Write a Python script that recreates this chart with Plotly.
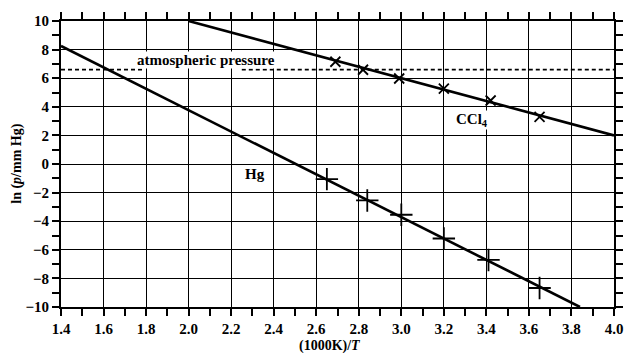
import plotly.graph_objects as go

# ---- data ----
ccl4_x = [2.69, 2.82, 2.99, 3.20, 3.42, 3.65]
ccl4_y = [7.15, 6.59, 5.98, 5.27, 4.44, 3.30]
hg_x = [2.65, 2.84, 3.00, 3.20, 3.41, 3.65]
hg_y = [-1.06, -2.55, -3.55, -5.21, -6.71, -8.67]

ccl4_fit_x = [2.0, 4.0]
ccl4_fit_y = [10.0, 2.0]
hg_fit_x = [1.4, 3.84]
hg_fit_y = [8.25, -10.0]

atm_x = [1.4, 1.79, None, 2.25, 4.0]
atm_y = [6.6, 6.6, None, 6.6, 6.6]

x_range = [1.4, 4.0]
y_range = [-10, 10]

FONT = "Liberation Serif, Times New Roman, serif"

fig = go.Figure()

fig.add_trace(go.Scatter(x=atm_x, y=atm_y, mode="lines",
                         line=dict(color="black", width=1.6, dash="4px,3px"),
                         connectgaps=False, hoverinfo="skip"))
fig.add_trace(go.Scatter(x=ccl4_fit_x, y=ccl4_fit_y, mode="lines",
                         line=dict(color="black", width=2.6)))
fig.add_trace(go.Scatter(x=hg_fit_x, y=hg_fit_y, mode="lines",
                         line=dict(color="black", width=2.6)))
fig.add_trace(go.Scatter(x=ccl4_x, y=ccl4_y, mode="markers",
                         marker=dict(symbol="x-thin", size=10, color="black",
                                     line=dict(width=1.8, color="black"))))
fig.add_trace(go.Scatter(x=hg_x, y=hg_y, mode="markers",
                         marker=dict(symbol="cross-thin", size=16, color="black",
                                     line=dict(width=1.8, color="black"))))

axis_common = dict(
    showline=True, linecolor="black", linewidth=2,
    showgrid=True, gridcolor="black", gridwidth=1.4,
    zeroline=False, ticks="outside", ticklen=7, tickwidth=1.5, tickcolor="black",
    mirror="allticks",
    tickfont=dict(family=FONT, size=15, color="black", weight="bold"),
)

fig.update_xaxes(range=x_range, tickmode="linear", tick0=1.4, dtick=0.2,
                 tickformat=".1f",
                 minor=dict(dtick=0.1, tick0=1.4, ticks="outside", ticklen=7,
                            tickwidth=1.5, tickcolor="black", showgrid=False),
                 **axis_common)
fig.update_yaxes(range=y_range, tickmode="linear", tick0=0, dtick=2,
                 minor=dict(dtick=1, tick0=0, ticks="outside", ticklen=7,
                            tickwidth=1.5, tickcolor="black", showgrid=False),
                 **axis_common)

ann_font = dict(family=FONT, size=15, color="black")
fig.add_annotation(x=2.08, y=7.3, xref="x", yref="y",
                   text="<b>atmospheric pressure</b>", showarrow=False,
                   font=ann_font, bgcolor="white", borderpad=0)
fig.add_annotation(x=3.33, y=3.05, xref="x", yref="y",
                   text="<b>CCl<sub>4</sub></b>", showarrow=False,
                   font=ann_font, bgcolor="white", borderpad=0)
fig.add_annotation(x=2.31, y=-0.7, xref="x", yref="y",
                   text="<b>Hg</b>", showarrow=False,
                   font=ann_font, bgcolor="white", borderpad=0)
fig.add_annotation(x=0.487, y=-0.138, xref="paper", yref="paper",
                   xanchor="center", yanchor="middle",
                   text="<b>(1000K)/<i>T</i></b>", showarrow=False,
                   font=dict(family=FONT, size=14, color="black"))
fig.add_annotation(x=-0.08, y=0.5, xref="paper", yref="paper",
                   xanchor="center", yanchor="middle",
                   text="<b>ln (<i>p</i>/mm Hg)</b>", showarrow=False, textangle=-90,
                   font=dict(family=FONT, size=14, color="black"))

fig.update_layout(
    width=635, height=353,
    margin=dict(l=61, r=13, t=18, b=46),
    paper_bgcolor="white", plot_bgcolor="white",
    showlegend=False,
)

fig.write_html("out.html", config={"displayModeBar": False},
               post_script="document.body.style.margin='0';document.body.style.overflow='hidden';")
